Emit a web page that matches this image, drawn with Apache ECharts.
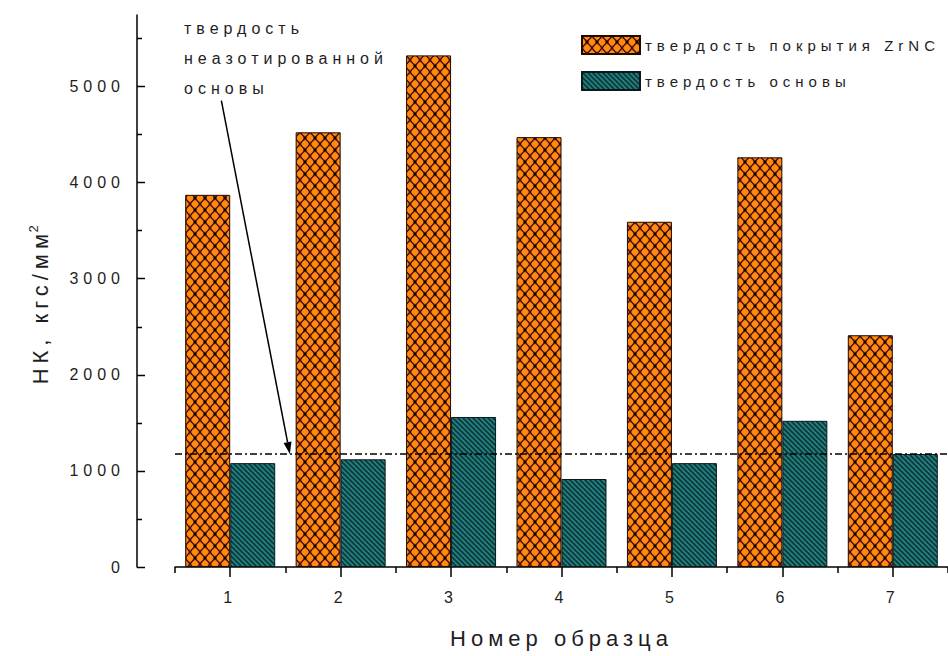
<!DOCTYPE html>
<html>
<head>
<meta charset="utf-8">
<script src="https://cdn.jsdelivr.net/npm/echarts@6/dist/echarts.min.js"></script>
<style>
  html, body { margin: 0; padding: 0; background: #ffffff; }
  #chart { width: 948px; height: 656px; }
  #chart svg text { letter-spacing: 5px; }
</style>
</head>
<body>
<div id="chart"></div>
<script>
// Sample numbers along the x axis
const samples = ['1', '2', '3', '4', '5', '6', '7'];
// Microhardness HK, kgf/mm^2
const coatingHardness = [3870, 4520, 5320, 4470, 3590, 4260, 2410];
const baseHardness = [1080, 1120, 1560, 915, 1080, 1520, 1175];
// Hardness of the non-nitrided base (dash-dot reference line)
const untreatedBaseLevel = 1175;
// Y axis: top of the scale, labelled ticks and minor ticks
const yMax = 5740;
const yMajorStep = 1000;
const yMajorTicks = [0, 1000, 2000, 3000, 4000, 5000];
const yMinorTicks = [500, 1500, 2500, 3500, 4500, 5500];
const seriesNames = ['твердость покрытия ZrNC', 'твердость основы'];
const noteLines = ['твердость', 'неазотированной', 'основы'];
// Arrow of the note: [category position, value] at its tail and head
const arrowTail = [-0.08, 4850];
const arrowHead = [0.54, untreatedBaseLevel];

const FONT = '"Liberation Sans", Arial, sans-serif';
const TEXT = '#1e1e1e';

// Plot box; the y axis line is pushed left of the plot by yAxisOffset
const plotLeft = 175, plotTop = 15, plotWidth = 784, plotBottom = 89;
const yAxisOffset = 38;

// Orange cross-hatch with round dots
function coatingPattern() {
  const w = 10, h = 12;
  const c = document.createElement('canvas');
  c.width = w; c.height = h;
  const g = c.getContext('2d');
  g.fillStyle = '#c45a26';
  g.fillRect(0, 0, w, h);
  g.fillStyle = '#ff8a0c';
  [[w / 2, 0], [0, h / 2], [w, h / 2], [w / 2, h]].forEach(function (p) {
    g.beginPath(); g.arc(p[0], p[1], 3.4, 0, Math.PI * 2); g.fill();
  });
  g.strokeStyle = '#3e0c08';
  g.lineWidth = 1.2;
  g.beginPath();
  g.moveTo(0, 0); g.lineTo(w, h);
  g.moveTo(w, 0); g.lineTo(0, h);
  g.stroke();
  g.fillStyle = '#000000';
  g.fillRect(w / 2 - 1.3, h / 2 - 1.3, 2.6, 2.6);
  return c;
}

// Teal with dark back-slash hatching
function basePattern() {
  const s = 5;
  const c = document.createElement('canvas');
  c.width = s; c.height = s;
  const g = c.getContext('2d');
  g.fillStyle = '#1f8480';
  g.fillRect(0, 0, s, s);
  g.strokeStyle = '#10353a';
  g.lineWidth = 1.7;
  g.beginPath();
  g.moveTo(-1, -1); g.lineTo(s + 1, s + 1);
  g.moveTo(-1, s - 1); g.lineTo(1, s + 1);
  g.moveTo(s - 1, -1); g.lineTo(s + 1, 1);
  g.stroke();
  return c;
}

const chart = echarts.init(document.getElementById('chart'), null, { renderer: 'svg' });

const tickLine = { color: '#000', width: 1.5 };

const option = {
  animation: false,
  backgroundColor: '#ffffff',
  textStyle: { fontFamily: FONT },
  grid: { left: plotLeft, top: plotTop, width: plotWidth, bottom: plotBottom, containLabel: false },
  legend: {
    orient: 'vertical',
    left: 581,
    top: 35,
    padding: 0,
    itemWidth: 58,
    itemHeight: 18,
    itemGap: 16,
    icon: 'rect',
    selectedMode: false,
    data: seriesNames,
    textStyle: { fontSize: 15, color: TEXT, fontFamily: FONT }
  },
  xAxis: [
    {
      type: 'category',
      data: samples,
      position: 'bottom',
      axisLine: { show: true, onZero: false, lineStyle: tickLine },
      axisTick: { show: true, alignWithLabel: true, length: 10, lineStyle: tickLine },
      axisLabel: { fontSize: 16, color: TEXT, margin: 22, fontFamily: FONT },
      splitLine: { show: false },
      name: 'Номер образца',
      nameLocation: 'middle',
      nameGap: 60,
      nameTextStyle: { fontSize: 22, color: TEXT, fontFamily: FONT }
    },
    {
      type: 'category',
      data: samples,
      position: 'bottom',
      axisLine: { show: false, onZero: false },
      axisTick: { show: true, alignWithLabel: false, length: 6, lineStyle: tickLine },
      axisLabel: { show: false },
      splitLine: { show: false }
    }
  ],
  yAxis: {
    type: 'value',
    min: 0,
    max: yMax,
    interval: yMajorStep,
    position: 'left',
    offset: yAxisOffset,
    splitLine: { show: false },
    axisLine: { show: true, onZero: false, lineStyle: tickLine },
    axisTick: { show: false },
    axisLabel: {
      show: true,
      showMaxLabel: false,
      formatter: function (v) { return yMajorTicks.indexOf(v) >= 0 ? String(v) : ''; },
      fontSize: 16, color: TEXT, margin: 12, fontFamily: FONT
    },
    name: '{a|НК, кгс/мм}{s|2}',
    nameLocation: 'middle',
    nameGap: 84,
    nameTextStyle: {
      color: TEXT,
      fontFamily: FONT,
      rich: {
        a: { fontSize: 22, lineHeight: 26, color: TEXT, fontFamily: FONT },
        s: { fontSize: 13, lineHeight: 26, verticalAlign: 'top', color: TEXT, fontFamily: FONT, padding: [0, 0, 0, 24] }
      }
    }
  },
  series: [
    {
      name: seriesNames[0],
      type: 'bar',
      data: coatingHardness,
      barWidth: 45,
      barGap: '0%',
      itemStyle: {
        color: { image: coatingPattern(), repeat: 'repeat' },
        borderColor: '#1a0a05',
        borderWidth: 1
      }
    },
    {
      name: seriesNames[1],
      type: 'bar',
      data: baseHardness,
      barWidth: 45,
      barGap: '0%',
      itemStyle: {
        color: { image: basePattern(), repeat: 'repeat' },
        borderColor: '#0a1a1a',
        borderWidth: 1
      },
      markLine: {
        silent: true,
        symbol: 'none',
        label: { show: false },
        lineStyle: { color: '#000', width: 1.5, type: [7, 3, 2, 3] },
        data: [{ yAxis: untreatedBaseLevel }]
      }
    }
  ]
};

chart.setOption(option);

// Inward y ticks on the offset axis line, placed through the y scale
const axisX = plotLeft - yAxisOffset;
function yTick(v, len) {
  const y = Math.round(chart.convertToPixel({ yAxisIndex: 0 }, v)) + 0.5;
  return {
    type: 'line',
    silent: true,
    shape: { x1: axisX, y1: y, x2: axisX + len, y2: y },
    style: { stroke: '#000', lineWidth: 1.5 }
  };
}
const tickGraphics = yMajorTicks.map(function (v) { return yTick(v, 8); })
  .concat(yMinorTicks.map(function (v) { return yTick(v, 5); }));

// Note with an arrow pointing at the reference line
function toPixel(p) {
  const x0 = chart.convertToPixel({ xAxisIndex: 0 }, 0);
  const x1 = chart.convertToPixel({ xAxisIndex: 0 }, 1);
  return [x0 + p[0] * (x1 - x0), chart.convertToPixel({ yAxisIndex: 0 }, p[1])];
}
const tail = toPixel(arrowTail);
const head = toPixel(arrowHead);
const ang = Math.atan2(head[1] - tail[1], head[0] - tail[0]);
const headLen = 12, headHalf = 4;
const base = [head[0] - headLen * Math.cos(ang), head[1] - headLen * Math.sin(ang)];
const nx = -Math.sin(ang), ny = Math.cos(ang);

chart.setOption({
  graphic: tickGraphics.concat([
    {
      type: 'text',
      left: 184,
      top: 13,
      style: {
        text: noteLines.join('\n'),
        font: '16px ' + FONT,
        lineHeight: 30,
        fill: TEXT
      }
    },
    {
      type: 'line',
      shape: { x1: tail[0], y1: tail[1], x2: base[0], y2: base[1] },
      style: { stroke: '#000', lineWidth: 1.5 }
    },
    {
      type: 'polygon',
      shape: {
        points: [
          head,
          [base[0] + nx * headHalf, base[1] + ny * headHalf],
          [base[0] - nx * headHalf, base[1] - ny * headHalf]
        ]
      },
      style: { fill: '#000' }
    }
  ])
});
</script>
</body>
</html>
